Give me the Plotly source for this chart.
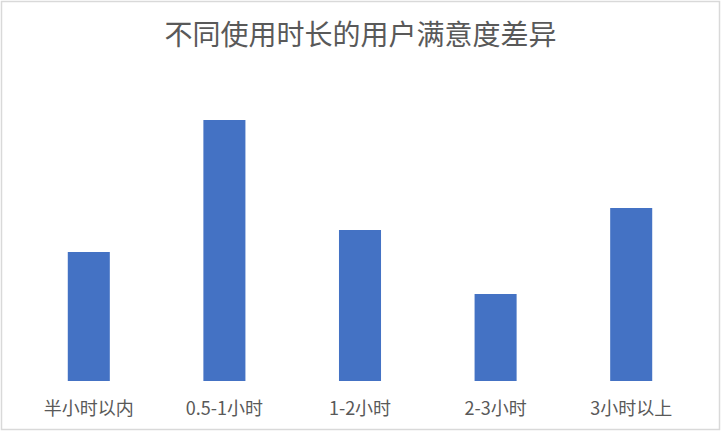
import plotly.graph_objects as go

categories = ["半小时以内", "0.5-1小时", "1-2小时", "2-3小时", "3小时以上"]
satisfaction = [129, 261, 151, 87, 173]

W, H = 721, 432
L, R, T, B = 21, 22, 70, 51

fig = go.Figure()
fig.add_trace(go.Bar(x=categories, y=satisfaction, marker_color="#4472C4", marker_line_width=0))

pw = W - L - R
ph = H - T - B
# light gray chart border
fig.add_shape(type="rect", xref="paper", yref="paper",
              x0=(1.5 - L) / pw, x1=(W - 1.5 - L) / pw,
              y0=-(B - 2.5) / ph, y1=1 + (T - 1.5) / ph,
              line=dict(color="#d9d9d9", width=1.5))

fig.update_layout(
    width=W, height=H,
    margin=dict(l=L, r=R, t=T, b=B),
    paper_bgcolor="white", plot_bgcolor="white",
    bargap=0.69,
    showlegend=False,
    title=dict(text="不同使用时长的用户满意度差异", x=0.5, xanchor="center",
               y=1 - 35 / H, yanchor="middle", yref="container",
               font=dict(family="Noto Sans CJK SC", size=28, color="#595959")),
    font=dict(family="Noto Sans CJK SC", color="#595959"),
)
fig.update_xaxes(showline=False, showgrid=False, ticks="", ticklabelstandoff=15,
                 tickfont=dict(size=18, color="#595959"))
fig.update_yaxes(range=[0, ph], visible=False, showgrid=False, zeroline=False)

# drop the page's default body margin so the chart sits at the window corner
fig.write_html("out.html", config={"displayModeBar": False},
               post_script="document.body.style.margin='0';")
